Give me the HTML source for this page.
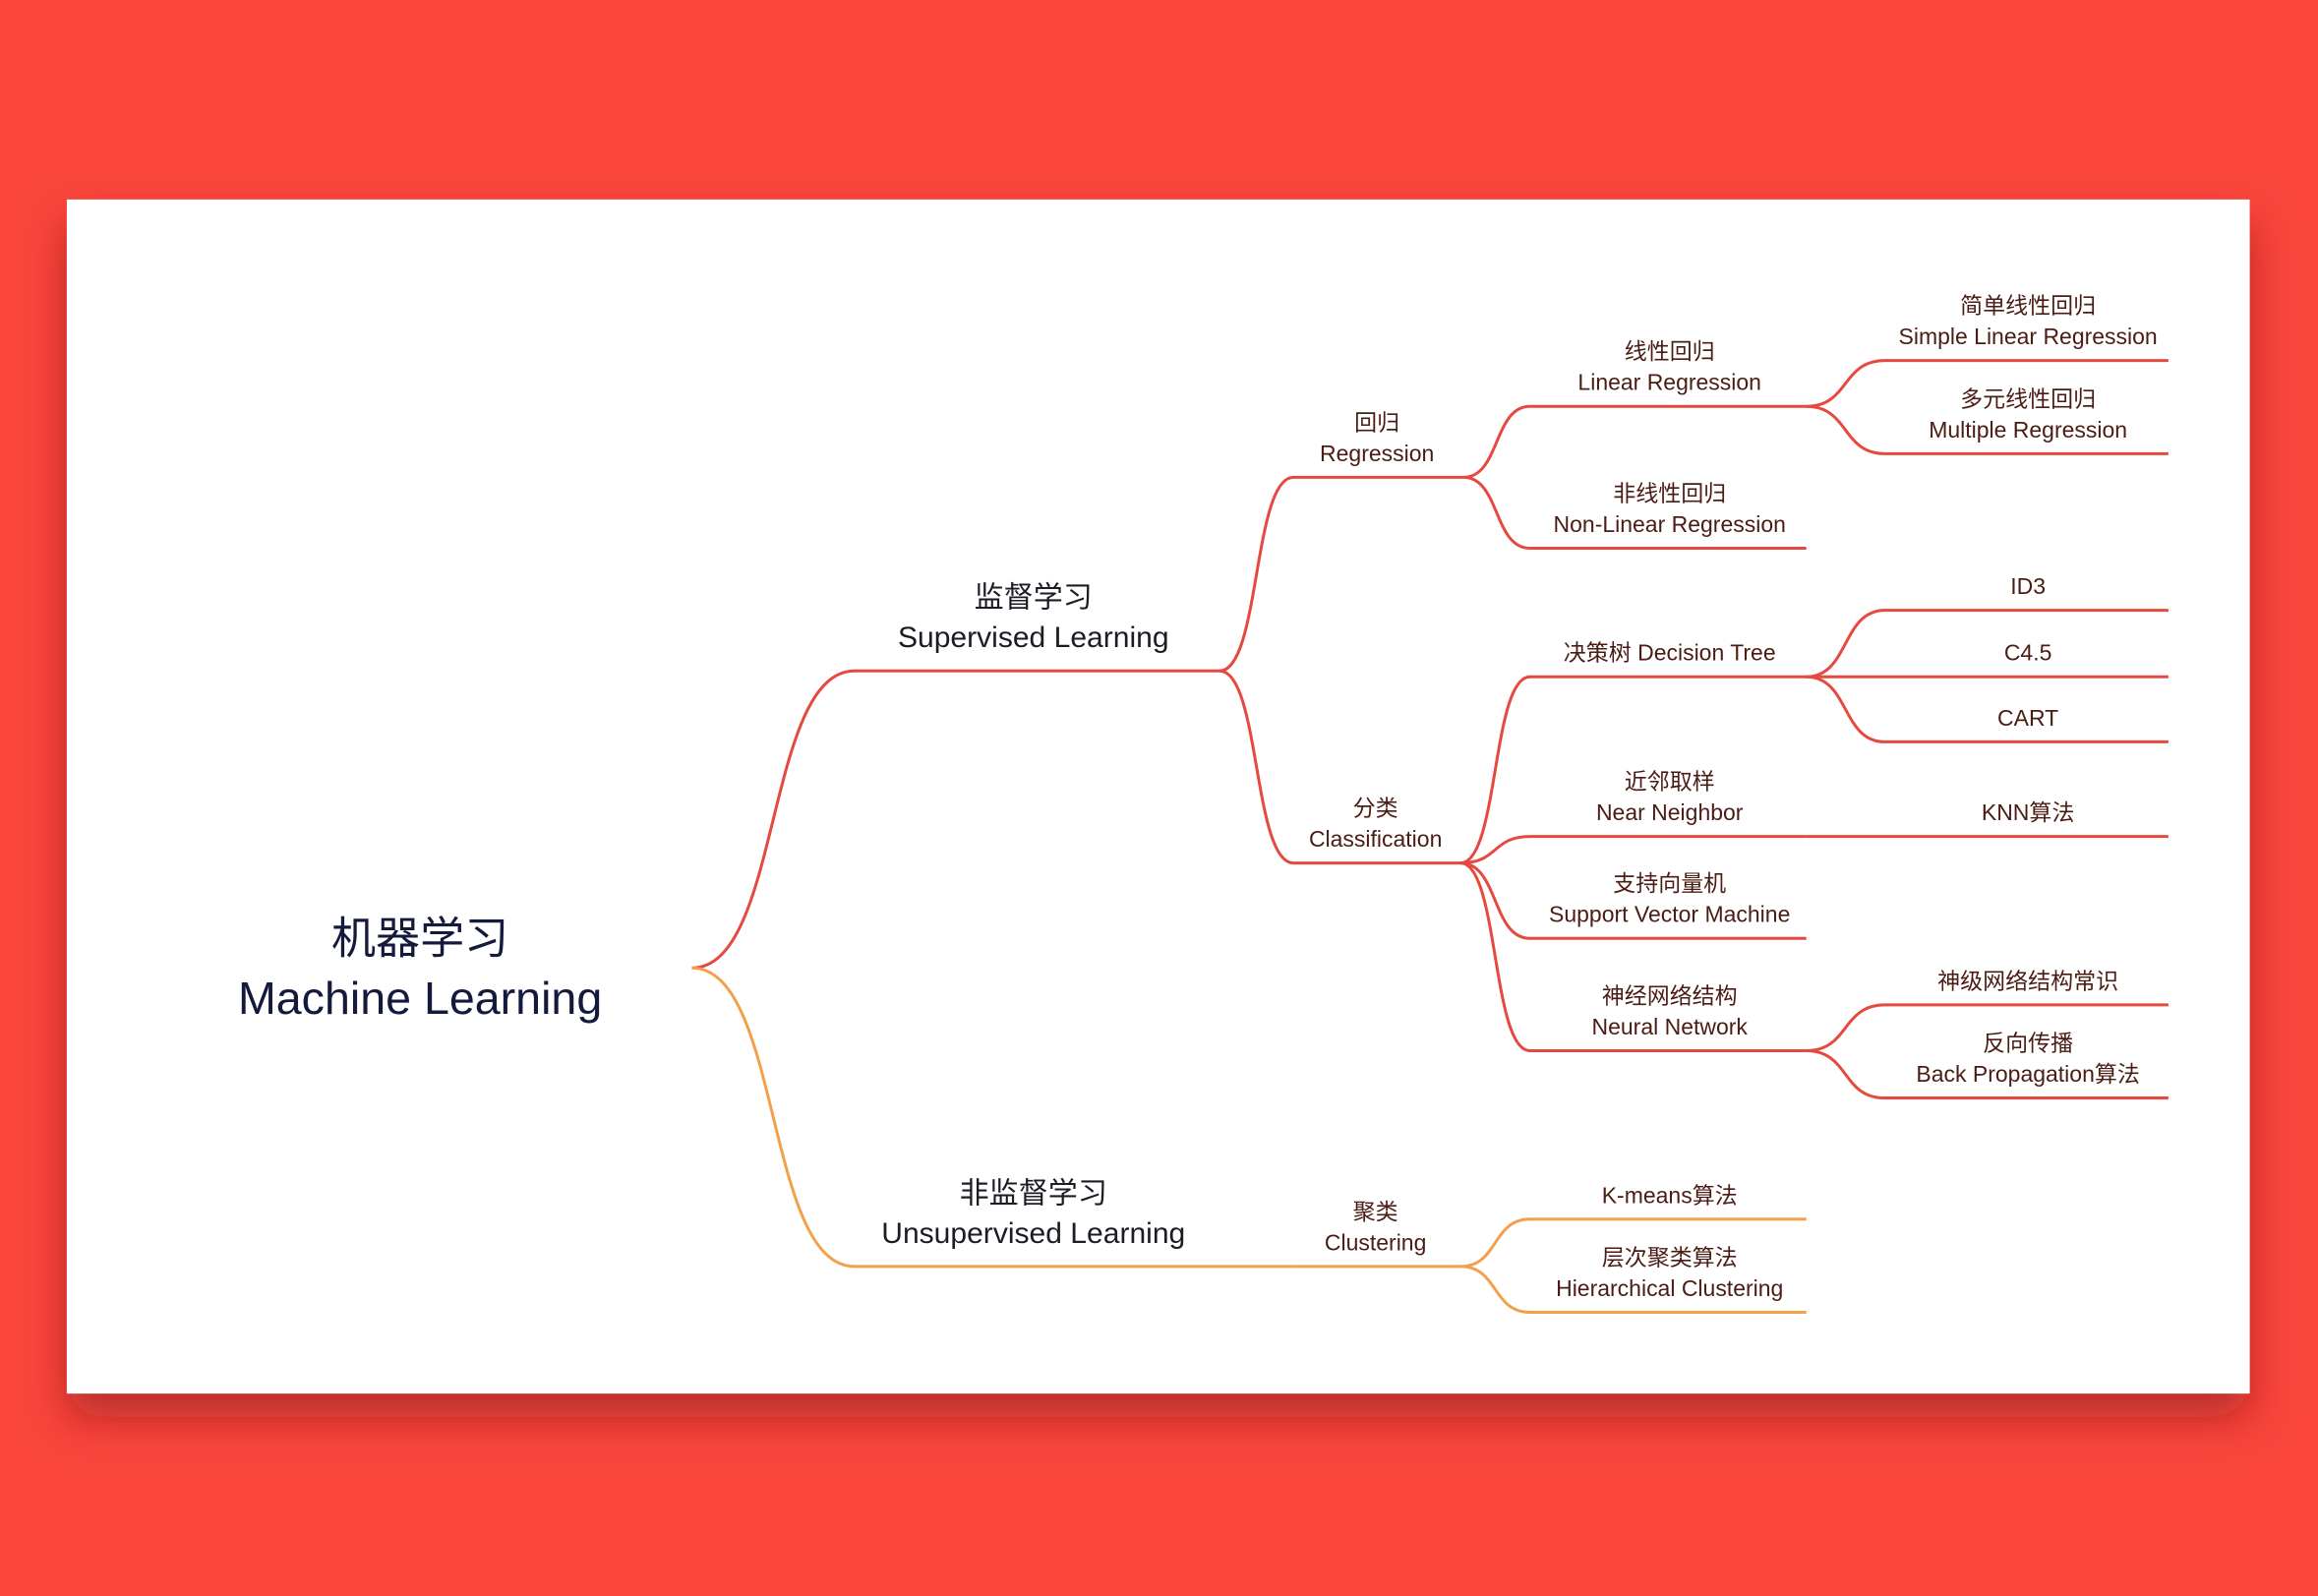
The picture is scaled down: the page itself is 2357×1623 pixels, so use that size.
<!DOCTYPE html>
<html><head><meta charset="utf-8"><style>
html,body{margin:0;padding:0;background:#fa463d;}
svg{display:block;}
text{font-family:"Liberation Sans","Noto Sans CJK SC",sans-serif;text-anchor:middle;}
</style></head><body>
<svg width="2357" height="1623" viewBox="0 0 1568 1080" xmlns="http://www.w3.org/2000/svg">
<defs><filter id="sh" x="-10%" y="-10%" width="120%" height="130%"><feDropShadow dx="0" dy="16" stdDeviation="14" flood-color="#7a1410" flood-opacity="0.5"/></filter></defs>
<rect x="0" y="0" width="1568" height="1080" fill="#fa463d"/>
<rect x="45" y="135" width="1477" height="808" fill="#ffffff" filter="url(#sh)"/>
<g id="links"></g>
<g id="labels"></g>
<g>
<text x="284" y="645" font-size="30" fill="#141a3c">机器学习</text>
<text x="284" y="686" font-size="31" fill="#141a3c">Machine Learning</text>
</g>
</svg>
<script>
const RED='#e5493f', ORANGE='#f2a14a';
const nodes=[
 ['sup',null,['监督学习','Supervised Learning'],454,578,825,1,RED],
 ['unsup',null,['非监督学习','Unsupervised Learning'],857,578,875,1,ORANGE],
 ['reg','sup',['回归','Regression'],323,875,990,2,RED],
 ['cls','sup',['分类','Classification'],584,875,988,2,RED],
 ['clu','unsup',['聚类','Clustering'],857,875,988,2,ORANGE],
 ['lin','reg',['线性回归','Linear Regression'],275,1035,1222,3,RED],
 ['nlin','reg',['非线性回归','Non-Linear Regression'],371,1035,1222,3,RED],
 ['slr','lin',['简单线性回归','Simple Linear Regression'],244,1275,1467,4,RED],
 ['mr','lin',['多元线性回归','Multiple Regression'],307,1275,1467,4,RED],
 ['dt','cls',['决策树 Decision Tree'],458,1035,1222,3,RED],
 ['nn','cls',['近邻取样','Near Neighbor'],566,1035,1222,3,RED],
 ['svm','cls',['支持向量机','Support Vector Machine'],635,1035,1222,3,RED],
 ['neu','cls',['神经网络结构','Neural Network'],711,1035,1222,3,RED],
 ['id3','dt',['ID3'],413,1275,1467,4,RED],
 ['c45','dt',['C4.5'],458,1275,1467,4,RED],
 ['cart','dt',['CART'],502,1275,1467,4,RED],
 ['knn','nn',['KNN算法'],566,1275,1467,4,RED],
 ['nsc','neu',['神级网络结构常识'],680,1275,1467,4,RED],
 ['bp','neu',['反向传播','Back Propagation算法'],743,1275,1467,4,RED],
 ['km','clu',['K-means算法'],825,1035,1222,3,ORANGE],
 ['hc','clu',['层次聚类算法','Hierarchical Clustering'],888,1035,1222,3,ORANGE]
];
const root={x:468,y:655};
const NS='http://www.w3.org/2000/svg';
const links=document.getElementById('links'), labels=document.getElementById('labels');
const byId={};nodes.forEach(n=>byId[n[0]]=n);
nodes.forEach(n=>{
  const [id,par,lines,y,x0,x1,lvl,col]=n;
  const p=par?{x:byId[par][5],y:byId[par][3]}:root;
  const w=x0-p.x;
  const path=document.createElementNS(NS,'path');
  path.setAttribute('d',`M${p.x},${p.y} C${p.x+w*0.55},${p.y} ${p.x+w*0.45},${y} ${x0},${y} L${x1},${y}`);
  path.setAttribute('fill','none');path.setAttribute('stroke',col);path.setAttribute('stroke-width','2');
  
  
  links.appendChild(path);
  const g=document.createElementNS(NS,'g');
  
  
  const fs=lvl===1?20:15.3, tc=lvl===1?'#1c1c24':'#4a1c14';
  const b2=lvl===1?y-16:y-11, gap=lvl===1?27:21;
  const cx=lvl===1?699:(x0+x1)/2+(lvl===2?-1:1);
  lines.forEach((t,i)=>{
    const tx=document.createElementNS(NS,'text');
    tx.setAttribute('x',cx);
    tx.setAttribute('y',b2-(lines.length-1-i)*gap);
    tx.setAttribute('font-size',fs);tx.setAttribute('fill',tc);
    tx.textContent=t;g.appendChild(tx);
  });
  labels.appendChild(g);
});
</script>
</body></html>
